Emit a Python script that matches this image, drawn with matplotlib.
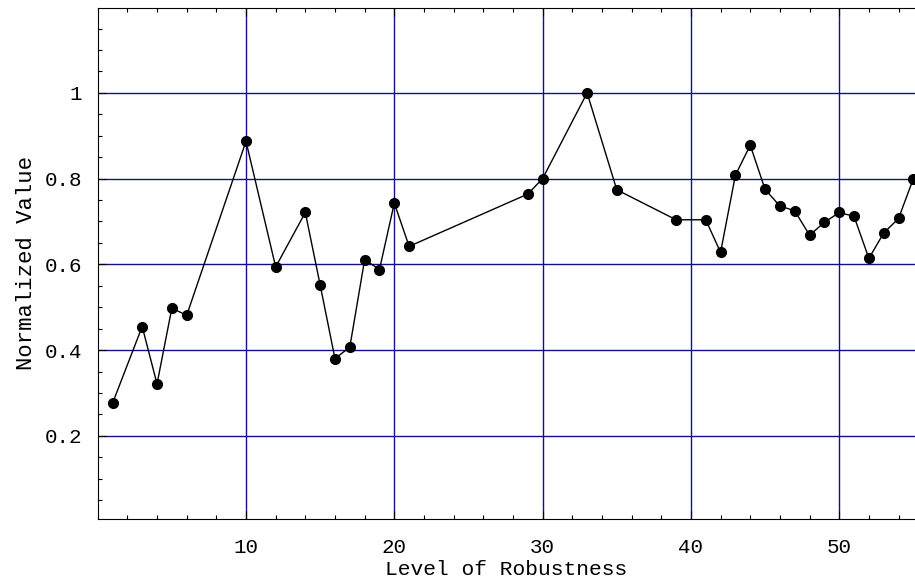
import matplotlib
matplotlib.use("Agg")
import matplotlib.pyplot as plt
from matplotlib.ticker import MultipleLocator

# level of robustness vs normalized value
level = [1, 3, 4, 5, 6, 10, 12, 14, 15, 16, 17, 18, 19, 20, 21,
         29, 30, 33, 35, 39, 41, 42, 43, 44, 45, 46, 47, 48, 49,
         50, 51, 52, 53, 54, 55]
value = [0.276, 0.455, 0.321, 0.498, 0.481, 0.887, 0.594, 0.721, 0.552,
         0.380, 0.407, 0.611, 0.588, 0.743, 0.642,
         0.764, 0.800, 1.000, 0.774, 0.704, 0.704, 0.628, 0.808, 0.878,
         0.775, 0.736, 0.725, 0.668, 0.698, 0.721, 0.712, 0.614, 0.673,
         0.707, 0.800]

x_ticks = [10, 20, 30, 40, 50]
y_ticks = [0.2, 0.4, 0.6, 0.8, 1.0]
y_labels = ["0.2", "0.4", "0.6", "0.8", "1"]

plt.rcParams['font.family'] = ['Liberation Mono', 'DejaVu Sans Mono']

W, H = 915, 581
fig = plt.figure(figsize=(W / 100, H / 100), dpi=100)
left, right, top, bottom = 97.7, 915, 8, 519
ax = fig.add_axes([left / W, (H - bottom) / H, (right - left) / W, (bottom - top) / H])

grid_col = "#10108a"
for xv in x_ticks:
    ax.axvline(xv, color=grid_col, lw=1.0, zorder=1)
for yv in y_ticks:
    ax.axhline(yv, color=grid_col, lw=1.0, zorder=1)

ax.plot(level, value, color="black", lw=1.0, marker="o", markersize=7,
        markerfacecolor="black", markeredgecolor="black", zorder=3, clip_on=False)

ax.set_xlim(0, 55.11)
ax.set_ylim(0.006, 1.198)

ax.set_xticks(x_ticks)
ax.set_yticks(y_ticks)
ax.set_yticklabels(y_labels)
ax.xaxis.set_minor_locator(MultipleLocator(2))
ax.yaxis.set_minor_locator(MultipleLocator(0.05))
ax.tick_params(which="both", direction="in", top=True, right=False,
               labelsize=15, color="black", width=0.8)
ax.tick_params(which="major", length=6)
ax.tick_params(which="minor", length=3)
ax.tick_params(axis="x", pad=14)
ax.tick_params(axis="y", pad=11)

ax.spines["right"].set_visible(False)
for s in ["left", "bottom", "top"]:
    ax.spines[s].set_linewidth(0.8)

ax.set_xlabel("Level of Robustness", fontsize=15.3, labelpad=2)
ax.set_ylabel("Normalized Value", fontsize=16, labelpad=6)

fig.savefig("out.png", dpi=100)
